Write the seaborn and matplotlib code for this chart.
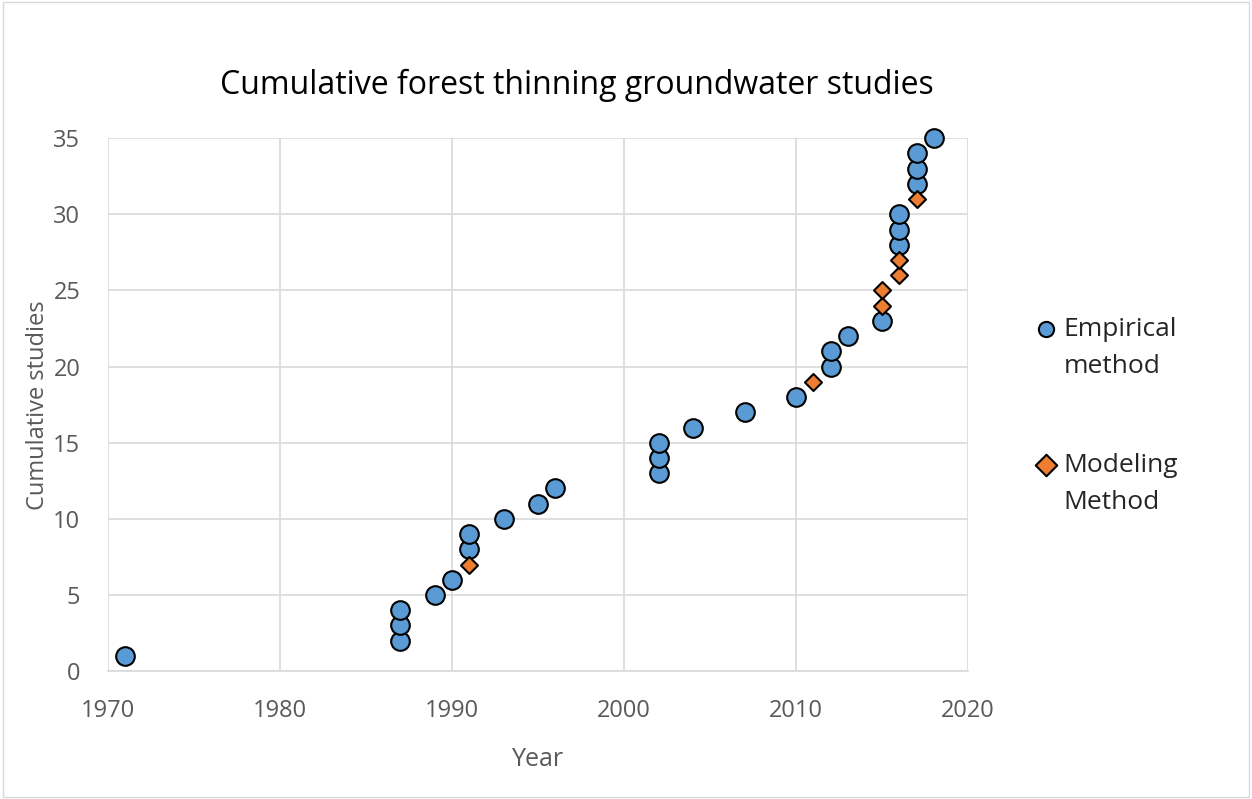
import pandas as pd
import numpy as np
import seaborn as sns
import matplotlib.pyplot as plt
from matplotlib.patches import Rectangle

# Empirical method studies (year, cumulative count)
emp_year = [1971, 1987, 1987, 1987, 1989, 1990, 1991, 1991, 1993, 1995, 1996,
            2002, 2002, 2002, 2004, 2007, 2010, 2012, 2012, 2013, 2015,
            2016, 2016, 2016, 2017, 2017, 2017, 2018]
emp_count = [1, 2, 3, 4, 5, 6, 8, 9, 10, 11, 12,
             13, 14, 15, 16, 17, 18, 20, 21, 22, 23,
             28, 29, 30, 32, 33, 34, 35]

# Modeling method studies
mod_year = [1991, 2011, 2015, 2015, 2016, 2016, 2017]
mod_count = [7, 19, 24, 25, 26, 27, 31]

labels = ['Empirical\nmethod', 'Modeling\nMethod']

data = pd.concat([
    pd.DataFrame({'Year': emp_year, 'Cumulative studies': emp_count, 'method': labels[0]}),
    pd.DataFrame({'Year': mod_year, 'Cumulative studies': mod_count, 'method': labels[1]}),
])

sns.set_style('white')
plt.rcParams['font.family'] = ['Open Sans', 'DejaVu Sans']
grey = '#595959'

fig = plt.figure(figsize=(12.52, 7.99), dpi=100)
ax = fig.add_axes([0.0863, 0.160, 0.6870, 0.667])

palette = {labels[0]: '#5B9BD5', labels[1]: '#ED7D31'}
markers = {labels[0]: 'o', labels[1]: 'D'}
sizes = {labels[0]: 180, labels[1]: 75}

for lab in labels:
    sub = data[data['method'] == lab]
    sns.scatterplot(data=sub, x='Year', y='Cumulative studies', ax=ax,
                    color=palette[lab], marker=markers[lab], s=sizes[lab],
                    edgecolor='black', linewidth=1.5, label=lab, zorder=3,
                    clip_on=False)

ax.set_xlim(1970, 2020)
ax.set_ylim(0, 35)
ax.set_xticks(np.arange(1970, 2021, 10))
ax.set_yticks(np.arange(0, 36, 5))
ax.grid(True, color='#d9d9d9', linewidth=1.2)
ax.set_axisbelow(True)
for side in ['top', 'right', 'left']:
    ax.spines[side].set_visible(False)
ax.spines['bottom'].set_color('#d9d9d9')
ax.spines['bottom'].set_linewidth(1.2)
ax.tick_params(axis='x', length=0, labelsize=17, colors=grey, pad=20)
ax.tick_params(axis='y', length=0, labelsize=17, colors=grey, pad=20)

ax.set_xlabel('Year', fontsize=18, color=grey, labelpad=17)
ax.set_ylabel('Cumulative studies', fontsize=17, color=grey, labelpad=2)
fig.text(0.461, 0.893, 'Cumulative forest thinning groundwater studies',
         fontsize=23, color='black', ha='center', va='center')

leg = ax.legend(loc='upper left', bbox_to_anchor=(1.063, 0.685), frameon=False,
                fontsize=19, labelspacing=2.8, handletextpad=0.15,
                handlelength=1.0, handleheight=1.3, borderaxespad=0)
for t in leg.get_texts():
    t.set_linespacing(1.65)
for h in leg.legend_handles:
    h.set_sizes([120])
for row in leg._legend_handle_box.get_children():
    for item in row.get_children():
        item.align = 'top'

fig.patches.append(Rectangle((0.002, 0.002), 0.996, 0.996, transform=fig.transFigure,
                             fill=False, edgecolor='#d9d9d9', linewidth=1))

fig.savefig('out.png', dpi=100)
